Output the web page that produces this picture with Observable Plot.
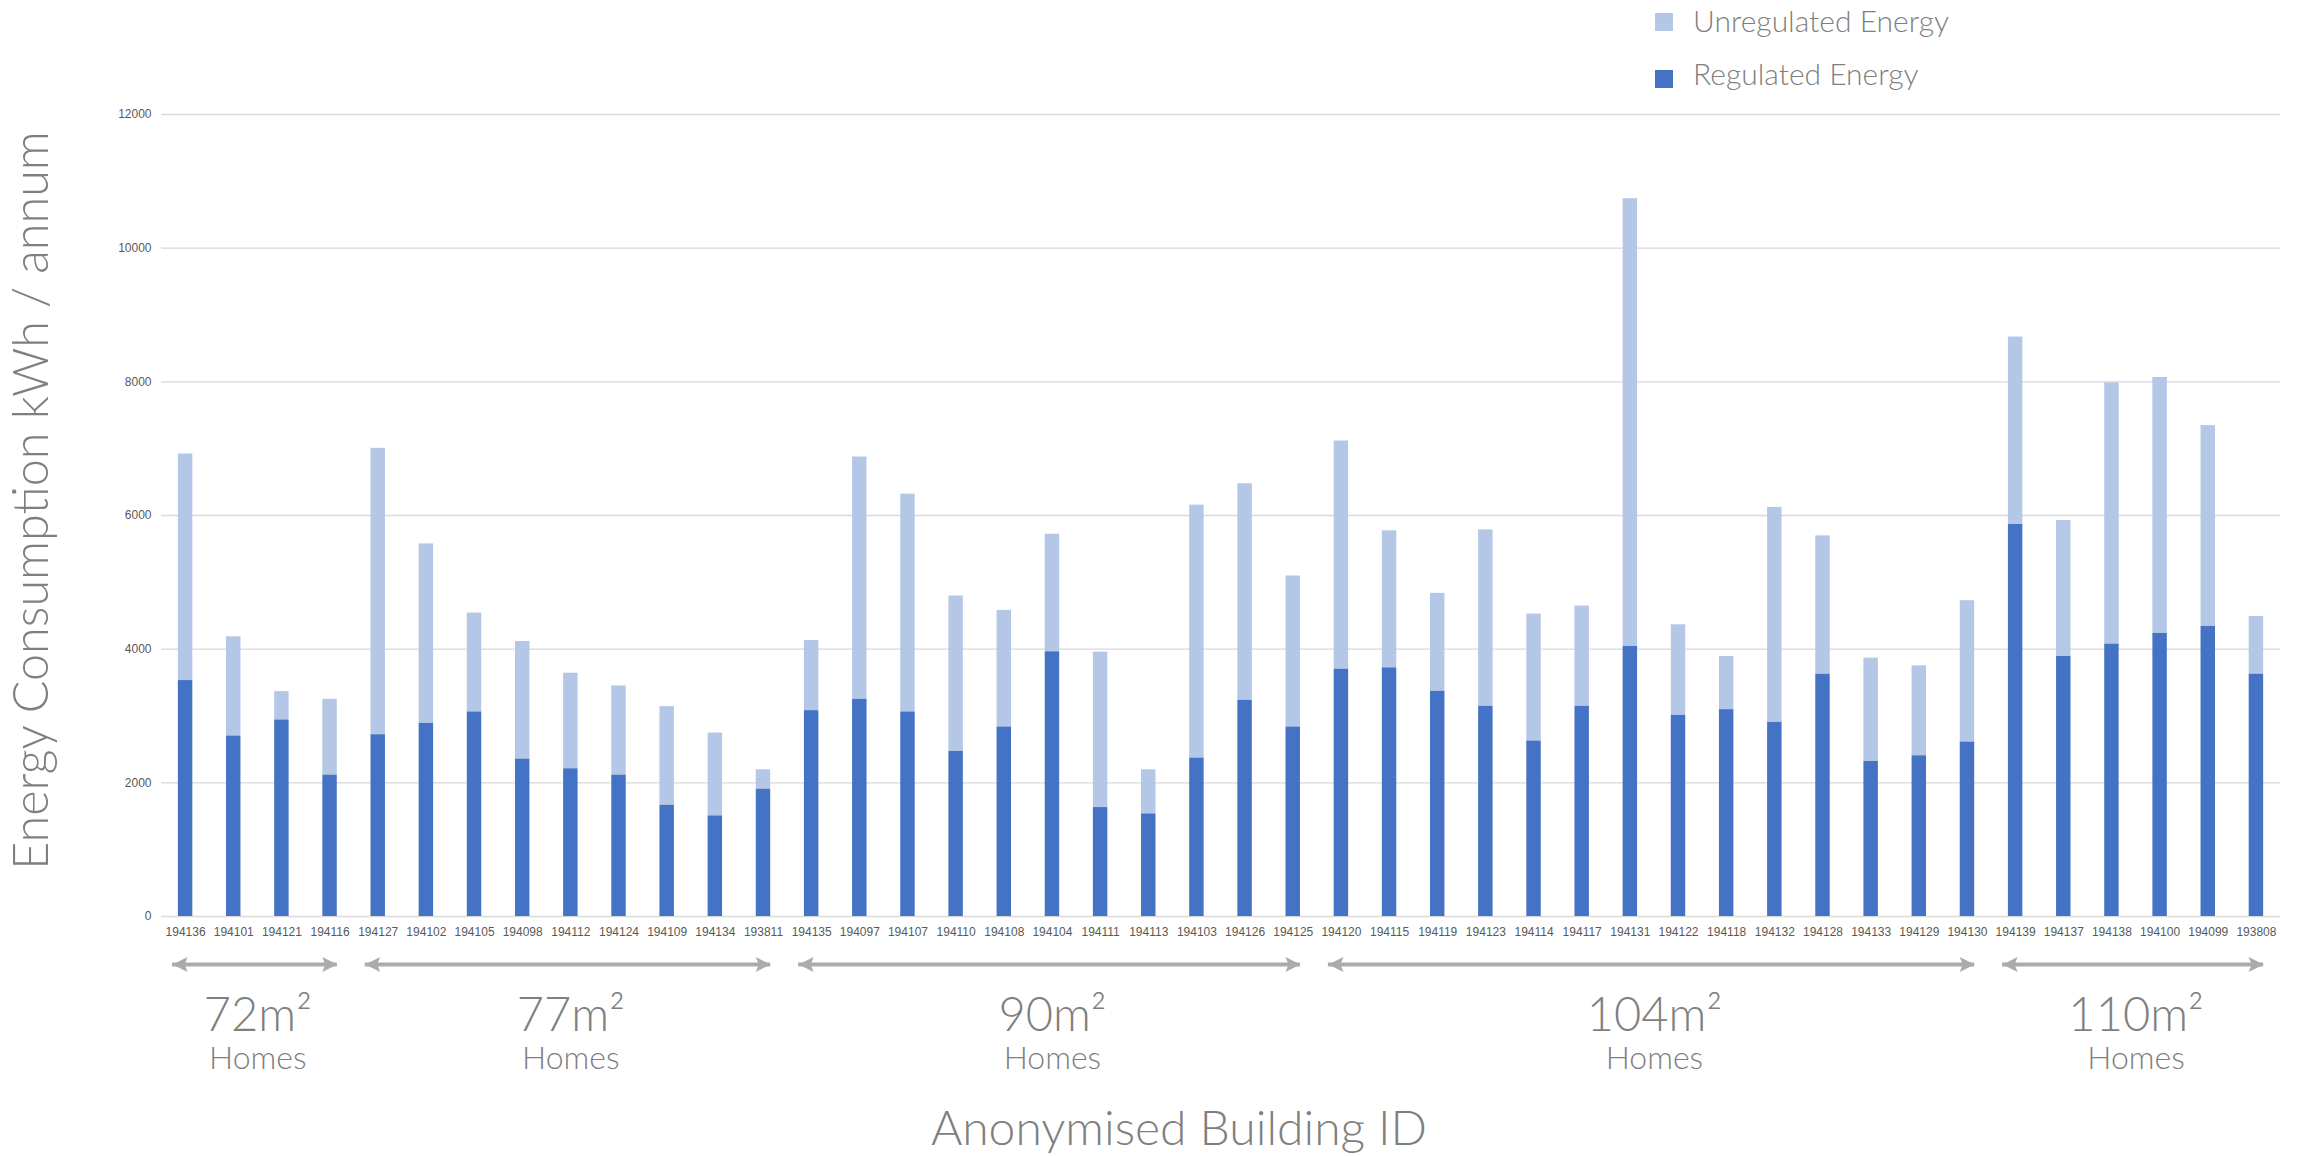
<!DOCTYPE html>
<html>
<head>
<meta charset="utf-8">
<script src="https://cdn.jsdelivr.net/npm/d3@7"></script>
<script src="https://cdn.jsdelivr.net/npm/@observablehq/plot@0.6"></script>
<style>
  html, body { margin: 0; padding: 0; background: #ffffff; }
  #wrap { width: 2298px; height: 1156px; position: relative; overflow: hidden; font-family: Lato, "Open Sans", sans-serif; }
  #legend { position: relative; height: 100px; }
  .sw { position: absolute; left: 1655px; width: 18px; height: 18px; }
  .lt { position: absolute; left: 1693px; font-size: 30px; line-height: 30px; font-weight: 300; color: #7f7f7f; white-space: nowrap; }
  #chart svg { display: block; }
</style>
</head>
<body>
<div id="wrap">
  <div id="legend"></div>
  <div id="chart"></div>
</div>
<script>
// ---- data ----
const ids = [
  "194136","194101","194121","194116",
  "194127","194102","194105","194098","194112","194124","194109","194134","193811",
  "194135","194097","194107","194110","194108","194104","194111","194113","194103","194126","194125",
  "194120","194115","194119","194123","194114","194117","194131","194122","194118","194132","194128","194133","194129","194130",
  "194139","194137","194138","194100","194099","193808"
];
const regulated = [
  3530, 2700, 2940, 2115,
  2720, 2890, 3060, 2355, 2210, 2115, 1665, 1505, 1905,
  3080, 3250, 3060, 2470, 2835, 3960, 1630, 1535, 2370, 3235, 2835,
  3700, 3720, 3370, 3145, 2625, 3145, 4040, 3010, 3095, 2905, 3625, 2320, 2405, 2610,
  5865, 3890, 4075, 4235, 4340, 3625
];
const unregulated = [
  3390, 1485, 425, 1135,
  4285, 2685, 1480, 1760, 1430, 1335, 1475, 1240, 290,
  1050, 3625, 3260, 2325, 1745, 1760, 2325, 660, 3785, 3240, 2260,
  3415, 2050, 1465, 2640, 1900, 1500, 6700, 1355, 795, 3215, 2070, 1545, 1345, 2115,
  2805, 2035, 3910, 3830, 3005, 865
];
const groupSizes = ["72", "77", "90", "104", "110"];
const groupCounts = [4, 9, 11, 14, 6];
const groupWord = "Homes";
const yTicks = [0, 2000, 4000, 6000, 8000, 10000, 12000];
const seriesNames = ["Unregulated Energy", "Regulated Energy"];
const seriesColors = ["#B4C7E7", "#4472C4"];
const xTitle = "Anonymised Building ID";
const yTitle = "Energy Consumption kWh / annum";

// ---- derived tables ----
const rows = ids.map((id, i) => ({i, id, reg: regulated[i], total: regulated[i] + unregulated[i]}));
let cursor = 0;
const groups = groupSizes.map((s, k) => {
  const g = {label: s + "m\u00B2", first: cursor, last: cursor + groupCounts[k] - 1};
  cursor += groupCounts[k];
  return g;
});

// ---- legend ----
const legend = document.getElementById("legend");
const swTops = [13, 70];
const txTops = [5, 58];
seriesNames.forEach((name, k) => {
  const sw = document.createElement("div");
  sw.className = "sw";
  sw.style.top = swTops[k] + "px";
  sw.style.background = seriesColors[k];
  legend.appendChild(sw);
  const t = document.createElement("div");
  t.className = "lt";
  t.style.top = txTops[k] + "px";
  t.textContent = name;
  legend.appendChild(t);
});

// ---- arrow heads ----
const headRight = {draw(ctx) { ctx.moveTo(0, 0); ctx.lineTo(-15, -7.5); ctx.lineTo(-12, 0); ctx.lineTo(-15, 7.5); ctx.closePath(); }};
const headLeft  = {draw(ctx) { ctx.moveTo(0, 0); ctx.lineTo(15, -7.5); ctx.lineTo(12, 0); ctx.lineTo(15, 7.5); ctx.closePath(); }};

const halfBar = 0.15;
const arrowColor = "#AEAAAA";
const textGray = "#7F7F7F";

const chart = Plot.plot({
  width: 2298,
  height: 1056,
  marginTop: 14,
  marginBottom: 240,
  marginLeft: 161,
  marginRight: 18,
  style: {fontFamily: "Lato", background: "#ffffff"},
  x: {type: "linear", domain: [-0.5, ids.length - 0.5]},
  y: {domain: [0, 12000]},
  marks: [
    Plot.gridY(yTicks, {stroke: "#D9D9D9", strokeOpacity: 1, strokeWidth: 1.3}),
    Plot.rect(rows, {x1: d => d.i - halfBar, x2: d => d.i + halfBar, y1: d => d.reg, y2: d => d.total, fill: seriesColors[0]}),
    Plot.rect(rows, {x1: d => d.i - halfBar, x2: d => d.i + halfBar, y1: 0, y2: d => d.reg, fill: seriesColors[1]}),
    Plot.axisY(yTicks, {tickSize: 0, tickPadding: 10, fontSize: 12, fontFamily: "Liberation Sans", color: "#595959", label: null, tickFormat: d => String(d)}),
    Plot.axisX(rows.map(d => d.i), {tickSize: 0, tickPadding: 11, fontSize: 12, fontFamily: "Liberation Sans", color: "#595959", label: null, tickFormat: i => ids[i]}),
    // group arrows
    Plot.ruleY(groups, {y: 0, x1: g => g.first - 0.27, x2: g => g.last + 0.15, dy: 48, stroke: arrowColor, strokeWidth: 4}),
    Plot.dot(groups, {x: g => g.last + 0.15, y: 0, dy: 48, symbol: headRight, fill: arrowColor, stroke: "none"}),
    Plot.dot(groups, {x: g => g.first - 0.27, y: 0, dy: 48, symbol: headLeft, fill: arrowColor, stroke: "none"}),
    // group labels
    Plot.text(groups, {x: g => (g.first + g.last) / 2, y: 0, dy: 99, text: g => g.label, fontSize: 47, fontWeight: 300, fill: textGray, lineAnchor: "middle", textAnchor: "middle"}),
    Plot.text(groups, {x: g => (g.first + g.last) / 2, y: 0, dy: 142, text: () => groupWord, fontSize: 32, fontWeight: 300, fill: textGray, lineAnchor: "middle", textAnchor: "middle"}),
    // axis titles
    Plot.text([xTitle], {frameAnchor: "bottom", text: d => d, dx: -42, dy: 213, fontSize: 48, fontWeight: 300, fill: textGray, lineAnchor: "middle", textAnchor: "middle"}),
    Plot.text([yTitle], {frameAnchor: "left", text: d => d, rotate: -90, dx: -129, dy: -15, fontSize: 48.5, fontWeight: 300, fill: textGray, lineAnchor: "middle", textAnchor: "middle"})
  ]
});
document.getElementById("chart").appendChild(chart);
</script>
</body>
</html>
